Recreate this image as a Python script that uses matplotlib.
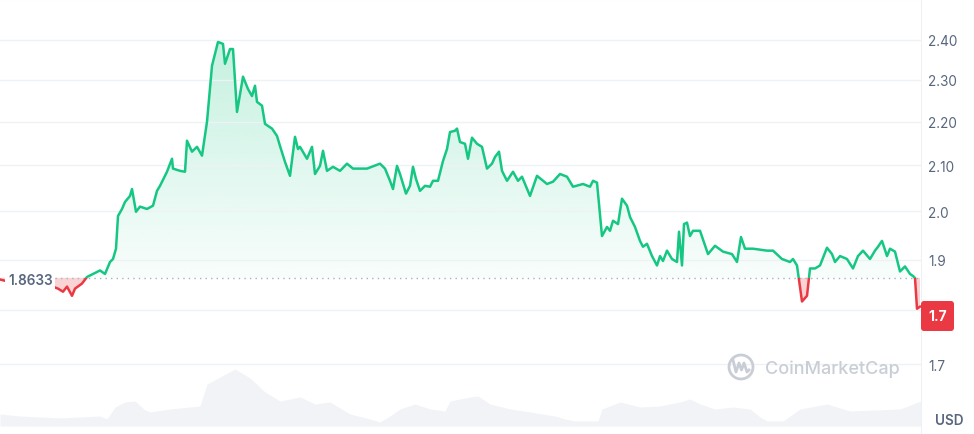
import numpy as np
import matplotlib
matplotlib.use("Agg")
import matplotlib.pyplot as plt
from matplotlib.path import Path
from matplotlib.patches import Circle, FancyBboxPatch, Rectangle
from matplotlib.lines import Line2D
from matplotlib.transforms import IdentityTransform, blended_transform_factory
from matplotlib.colors import to_rgb

plt.rcParams['font.family'] = ['Inter', 'DejaVu Sans']

# ---------------- data ----------------
open_price = 1.8633
last_label = "1.7"

time_idx = [0, 20, 40, 58, 63, 67, 72, 75, 82, 87, 93, 100, 105, 110, 113, 116, 118, 122, 125, 130,
            132, 136, 140, 147, 153, 157, 160, 167, 172, 173, 180, 185, 187, 192, 197, 202, 207, 212, 218, 223,
            225, 230, 233, 237, 243, 248, 252, 255, 257, 262, 265, 272, 277, 280, 285, 290, 295, 298, 300, 307,
            312, 315, 320, 323, 327, 333, 340, 347, 353, 367, 380, 385, 390, 393, 397, 400, 406, 410, 413, 416,
            420, 425, 430, 433, 438, 443, 447, 450, 455, 457, 460, 465, 468, 472, 477, 482, 487, 492, 495, 499,
            502, 507, 513, 518, 522, 530, 537, 543, 547, 553, 560, 567, 573, 583, 590, 593, 597, 602, 607, 610,
            613, 618, 622, 627, 630, 635, 640, 643, 647, 652, 657, 660, 663, 667, 672, 677, 679, 682, 684, 687,
            690, 693, 700, 708, 715, 723, 732, 737, 741, 745, 753, 767, 773, 782, 790, 793, 797, 802, 807, 810,
            815, 820, 827, 832, 835, 840, 847, 853, 858, 863, 870, 875, 878, 882, 887, 890, 895, 900, 905, 910,
            913, 915, 917, 920]
price = [1.860, 1.850, 1.856, 1.842, 1.836, 1.846, 1.828, 1.842, 1.852, 1.865, 1.871, 1.878, 1.871, 1.895, 1.901, 1.922, 1.990, 2.005, 2.020, 2.033,
         2.048, 1.999, 2.010, 2.005, 2.012, 2.044, 2.055, 2.086, 2.115, 2.093, 2.088, 2.086, 2.156, 2.131, 2.142, 2.122, 2.200, 2.335, 2.395, 2.390,
         2.340, 2.377, 2.377, 2.223, 2.308, 2.278, 2.261, 2.286, 2.247, 2.238, 2.195, 2.184, 2.167, 2.144, 2.108, 2.077, 2.165, 2.137, 2.142, 2.115,
         2.142, 2.081, 2.099, 2.133, 2.088, 2.097, 2.088, 2.104, 2.093, 2.093, 2.104, 2.093, 2.066, 2.048, 2.099, 2.081, 2.038, 2.055, 2.097, 2.070,
         2.044, 2.055, 2.053, 2.066, 2.066, 2.110, 2.137, 2.176, 2.179, 2.184, 2.153, 2.149, 2.115, 2.163, 2.149, 2.142, 2.093, 2.104, 2.119, 2.131,
         2.088, 2.066, 2.086, 2.066, 2.075, 2.033, 2.077, 2.066, 2.059, 2.064, 2.081, 2.075, 2.053, 2.059, 2.053, 2.066, 2.062, 1.948, 1.967, 1.959,
         1.980, 1.973, 2.027, 2.012, 1.988, 1.967, 1.938, 1.926, 1.932, 1.907, 1.888, 1.907, 1.897, 1.918, 1.901, 1.895, 1.957, 1.888, 1.973, 1.976,
         1.948, 1.959, 1.959, 1.911, 1.928, 1.916, 1.911, 1.895, 1.946, 1.922, 1.922, 1.918, 1.918, 1.901, 1.895, 1.901, 1.888, 1.817, 1.828, 1.882,
         1.882, 1.888, 1.924, 1.911, 1.895, 1.907, 1.901, 1.882, 1.907, 1.918, 1.901, 1.918, 1.926, 1.938, 1.907, 1.922, 1.916, 1.876, 1.886, 1.871,
         1.867, 1.863, 1.803, 1.807]

vol_time = [0, 20, 60, 100, 107, 115, 125, 135, 145, 150, 170, 200, 207, 235, 250, 265, 280, 300, 315, 330,
            350, 370, 380, 390, 400, 415, 430, 445, 450, 470, 478, 490, 510, 530, 555, 565, 575, 598, 602, 620,
            640, 660, 680, 690, 700, 715, 733, 750, 760, 767, 783, 800, 827, 850, 900, 921]
volume = [12, 10, 8, 10, 7, 19, 24, 25, 16, 14, 17, 20, 42, 57, 48, 34, 25, 29, 22, 24,
          12, 7, 4, 10, 17, 22, 17, 15, 25, 29, 30, 22, 17, 14, 10, 7, 5, 5, 17, 24,
          19, 20, 24, 27, 22, 17, 19, 17, 9, 5, 5, 17, 22, 15, 17, 25]

y_ticks = [1.7, 1.8, 1.9, 2.0, 2.1, 2.2, 2.3, 2.4]
y_tick_labels = ["1.7", "", "1.9", "2.0", "2.10", "2.20", "2.30", "2.40"]

# ---------------- styling ----------------
GREEN = "#16c784"
RED = "#ea3943"
GRID = "#eff2f5"
TXT = "#58667e"

W, H = 974, 435
fig = plt.figure(figsize=(W / 100, H / 100), dpi=100)
fig.patch.set_facecolor("white")

plot_w = 921 / W

# volume axes (behind)
vax = fig.add_axes([0, 8 / H, plot_w, 57 / H], zorder=0)
vax.fill_between(vol_time, volume, 0, color="#f1f3f6", lw=0)
vax.set_xlim(0, 921)
vax.set_ylim(0, 57)
vax.axis("off")

ax = fig.add_axes([0, 0, plot_w, 1], zorder=1)
ax.patch.set_alpha(0)
ax.set_yscale("log")
ax.set_xlim(0, 921)
ax.set_ylim(1.578, 2.507)

t = np.array(time_idx, dtype=float)
p = np.array(price)

# grid & ticks
ax.set_yticks(y_ticks)
ax.set_yticklabels(y_tick_labels)
ax.yaxis.set_minor_locator(matplotlib.ticker.NullLocator())
ax.yaxis.tick_right()
ax.tick_params(axis="y", length=0, pad=5, labelsize=9.8, labelcolor=TXT)
ax.set_xticks([])
ax.grid(axis="y", color=GRID, lw=1, zorder=0)
for s in ["left", "bottom"]:
    ax.spines[s].set_visible(False)
ax.spines["right"].set_color(GRID)
ax.spines["top"].set_color(GRID)

# green gradient fill between line and open price
poly = ax.fill_between(t, p, open_price, where=p >= open_price, interpolate=True,
                       facecolor="none", edgecolor="none")
lo, hi = np.log(1.578), np.log(2.507)
fb = (np.log(open_price) - lo) / (hi - lo)
n = 300
fy = np.linspace(0, 1, n)
alpha = np.clip(0.03 + 0.22 * (fy - fb) / (0.906 - fb), 0.03, 0.3)
rgb = to_rgb(GREEN)
grad = np.zeros((n, 1, 4))
grad[:, 0, 0], grad[:, 0, 1], grad[:, 0, 2] = rgb
grad[:, 0, 3] = alpha
im = ax.imshow(grad, extent=[0, 1, 0, 1], transform=ax.transAxes, origin="lower",
               aspect="auto", zorder=1, interpolation="bilinear")
cp = Path.make_compound_path(*poly.get_paths())
im.set_clip_path(cp, poly.get_transform())

# red fill below open price
ax.fill_between(t, p, open_price, where=p < open_price, interpolate=True,
                color=RED, alpha=0.22, lw=0, zorder=1)

# line coloured by side of open price
btr = blended_transform_factory(ax.transAxes, ax.transData)
lg, = ax.plot(t, p, color=GREEN, lw=1.8, zorder=3, solid_joinstyle="round")
lg.set_clip_path(Rectangle((0, open_price), 1, 10, transform=btr))
lr, = ax.plot(t, p, color=RED, lw=1.8, zorder=3, solid_joinstyle="round")
lr.set_clip_path(Rectangle((0, 0.5), 1, open_price - 0.5, transform=btr))

# dotted open-price line
ax.axhline(open_price, xmin=55 / 921, xmax=1, color="#a6b0c3", lw=1, ls=(0, (1, 3)), zorder=2)

# open price label
fig.text(8 / W, 1 - 281 / H, f"{open_price:.4f}", ha="left", va="center", fontsize=9.8,
         color=TXT, fontweight="semibold", zorder=5,
         bbox=dict(boxstyle="square,pad=0.2", fc="white", ec="none"))

# last price badge
badge = FancyBboxPatch((921, H - 332), 33, 30, boxstyle="round,pad=0,rounding_size=3",
                       transform=IdentityTransform(), fc=RED, ec="none", zorder=6)
fig.add_artist(badge)
fig.text(937.5 / W, 1 - 317 / H, last_label, ha="center", va="center", fontsize=10,
         color="white", fontweight="bold", zorder=7)

# USD label
fig.text(935 / W, 1 - 421 / H, "USD", ha="left", va="center", fontsize=9.8,
         color=TXT, fontweight="semibold")

# watermark
WM = "#c9ced6"
fig.add_artist(Circle((741, H - 368), 12, transform=IdentityTransform(), fc="none",
                      ec=WM, lw=2, zorder=4))
wave_x = [733, 736, 739, 741.5, 744, 747, 749]
wave_y = [361, 373, 364, 371, 364, 373, 371]
fig.add_artist(Line2D(wave_x, [H - v for v in wave_y], transform=IdentityTransform(),
                      color=WM, lw=2, zorder=4, solid_joinstyle="round"))
fig.text(765 / W, 1 - 369 / H, "CoinMarketCap", ha="left", va="center", fontsize=13,
         color=WM, fontweight="medium", zorder=4)

fig.savefig("out.png", dpi=100)
